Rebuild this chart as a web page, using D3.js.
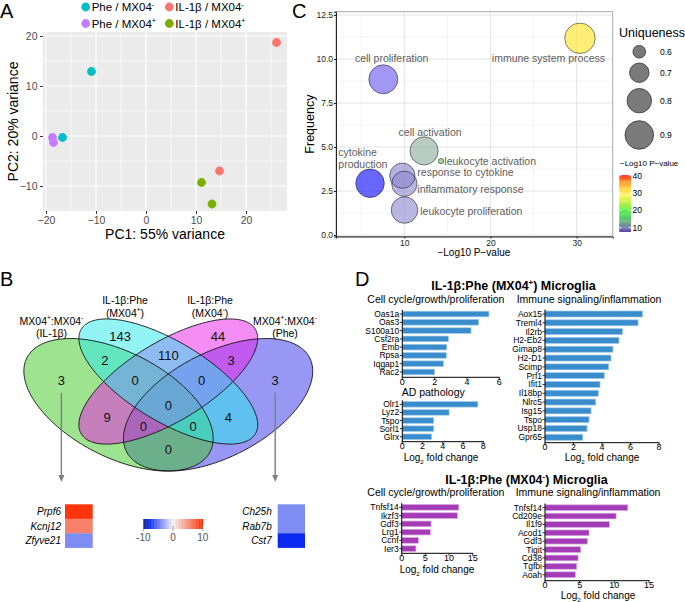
<!DOCTYPE html>
<html><head><meta charset="utf-8">
<script src="https://cdn.jsdelivr.net/npm/d3@7"></script>
<style>body{margin:0;background:#fff}svg{display:block;font-family:"Liberation Sans",Arial,Helvetica,sans-serif}</style>
</head><body><svg id="c" width="685" height="602"></svg>
<script>
// ================= DATA =================
// Panel A – PCA
const pcaGroups = ["Phe / MX04^{-}", "IL-1β / MX04^{-}", "Phe / MX04^{+}", "IL-1β / MX04^{+}"];
const pcaPC1 = [-10.9, -16.7, 26.1, 14.7, -18.7, -18.5, 11.1, 13.2];
const pcaPC2 = [12.9, -0.3, 18.7, -7.0, -0.3, -1.3, -9.3, -13.6];
const pcaPointGroup = [0, 0, 1, 1, 2, 2, 3, 3];
const pcaXTicks = [-20, -10, 0, 10, 20];
const pcaYTicks = [-10, 0, 10, 20];

// Panel C – GO bubble chart
const goTerms = ["cell proliferation", "immune system process", "cell activation", "leukocyte activation",
  "response to cytokine", "inflammatory response", "cytokine production", "leukocyte proliferation"];
const goLogP = [7.56, 30.38, 12.29, 14.26, 9.77, 10.0, 6.02, 10.02];
const goFreq = [8.85, 11.18, 4.78, 4.2, 3.37, 2.91, 2.94, 1.42];
const goUniq = [0.91, 0.95, 0.89, 0.54, 0.82, 0.82, 0.90, 0.85];
const uniqLegend = [0.6, 0.7, 0.8, 0.9];
const goXTicks = [10, 20, 30];
const goYTicks = [0, 2.5, 5, 7.5, 10, 12.5];
const goColorTicks = [10, 20, 30, 40];

// Panel B – Venn + heatmaps
const vennSetLabels = [["MX04^{+}:MX04^{-}", "(IL-1β)"], ["IL-1β:Phe", "(MX04^{+})"], ["IL-1β:Phe", "(MX04^{-})"], ["MX04^{+}:MX04^{-}", "(Phe)"]];
const vennRegions = ["A", "B", "C", "D", "AB", "BC", "CD", "ABC", "BCD", "ABCD", "AC", "BD", "ACD", "ABD", "AD"];
const vennCounts = [3, 143, 44, 3, 2, 110, 3, 0, 0, 0, 9, 4, 0, 0, 0];
const heatGenesLeft = ["Prpf6", "Kcnj12", "Zfyve21"];
const heatValsLeft = [9.5, 5.7, -4];
const heatGenesRight = ["Ch25h", "Rab7b", "Cst7"];
const heatValsRight = [-4, -4, -8];
const heatTicks = [-10, 0, 10];

// Panel D – fold changes
const d1Genes = ["Oas1a", "Oas3", "S100a10", "Csf2ra", "Emb", "Rpsa", "Iqgap1", "Rac2"];
const d1Vals = [5.36, 4.72, 4.25, 2.85, 2.74, 2.72, 2.54, 2.0];
const d2Genes = ["Olr1", "Lyz2", "Tspo", "Sorl1", "Glrx"];
const d2Vals = [7.46, 4.62, 3.1, 3.1, 2.9];
const d3Genes = ["Aox15", "Treml4", "Il2rb", "H2-Eb2", "Gimap8", "H2-D1", "Scimp", "Prf1", "Ifit1", "Il18bp", "Nlrc5", "Isg15", "Tspo", "Usp18", "Gpr65"];
const d3Vals = [6.85, 6.53, 5.43, 5.19, 4.77, 4.63, 4.47, 4.16, 3.86, 3.74, 3.56, 3.23, 3.09, 2.95, 2.65];
const d4Genes = ["Tnfsf14", "Ikzf3", "Gdf3", "Lrg1", "Ccnf", "Ier3"];
const d4Vals = [12.05, 11.75, 6.2, 6.05, 3.5, 3.0];
const d5Genes = ["Tnfsf14", "Cd209e", "Il1f9", "Acod1", "Gdf3", "Tigit", "Cd38", "Tgfbi", "Aoah"];
const d5Vals = [11.93, 10.25, 9.28, 6.35, 6.1, 5.15, 4.76, 4.57, 4.37];
const ticks6 = [0, 2, 4, 6], ticks8 = [0, 2, 4, 6, 8], ticks15 = [0, 5, 10, 15];

// ================= HELPERS =================
const svg = d3.select("#c");
svg.append("rect").attr("width", 685).attr("height", 602).attr("fill", "#fff");

function rich(sel, str, fs) {
  const parts = str.split(/(\^\{[^}]*\}|_\{[^}]*\})/).filter(s => s.length);
  let prev = 0;
  parts.forEach(p => {
    let t = p, off = 0, small = false;
    if (p.startsWith("^{")) { t = p.slice(2, -1); off = -0.4 * fs; small = true; }
    else if (p.startsWith("_{")) { t = p.slice(2, -1); off = 0.28 * fs; small = true; }
    const ts = sel.append("tspan").text(t);
    if (off - prev !== 0) ts.attr("dy", off - prev);
    if (small) ts.attr("font-size", fs * 0.62);
    prev = off;
  });
  return sel;
}
function txt(g, x, y, str, fs, opts = {}) {
  const t = g.append("text").attr("x", x).attr("y", y).attr("font-size", fs)
    .attr("text-anchor", opts.anchor || "start").attr("fill", opts.fill || "#000");
  if (opts.weight) t.attr("font-weight", opts.weight);
  if (opts.style) t.attr("font-style", opts.style);
  if (opts.rotate) t.attr("transform", `rotate(${opts.rotate},${x},${y})`);
  return rich(t, str, fs);
}

// Panel letters
[["A", 0, 18.2], ["B", 0, 286], ["C", 292, 18.2], ["D", 355, 286]].forEach(([l, x, y]) =>
  txt(svg, x, y, l, 20));

// ================= PANEL A =================
{
  const g = svg.append("g");
  const x = d3.scaleLinear().domain([-20.6, 28.2]).range([43, 287]);
  const y = d3.scaleLinear().domain([-15, 20.8]).range([211, 32]);
  const cols = ["#00BFC4", "#F8766D", "#C77CFF", "#7CAE00"];
  g.append("rect").attr("x", x.range()[0]).attr("y", y.range()[1])
    .attr("width", x.range()[1] - x.range()[0]).attr("height", y.range()[0] - y.range()[1]).attr("fill", "#EBEBEB");
  const minorX = pcaXTicks.map(t => t + 5), minorY = pcaYTicks.slice(0, -1).map(t => t + 5);
  g.selectAll(".mx").data(minorX).join("line").attr("x1", d => x(d)).attr("x2", d => x(d))
    .attr("y1", y.range()[1]).attr("y2", y.range()[0]).attr("stroke", "#fff").attr("stroke-width", 0.6);
  g.selectAll(".my").data(minorY).join("line").attr("y1", d => y(d)).attr("y2", d => y(d))
    .attr("x1", x.range()[0]).attr("x2", x.range()[1]).attr("stroke", "#fff").attr("stroke-width", 0.6);
  g.selectAll(".Mx").data(pcaXTicks).join("line").attr("x1", d => x(d)).attr("x2", d => x(d))
    .attr("y1", y.range()[1]).attr("y2", y.range()[0]).attr("stroke", "#fff").attr("stroke-width", 1.2);
  g.selectAll(".My").data(pcaYTicks).join("line").attr("y1", d => y(d)).attr("y2", d => y(d))
    .attr("x1", x.range()[0]).attr("x2", x.range()[1]).attr("stroke", "#fff").attr("stroke-width", 1.2);

  const ax = g.append("g").attr("transform", `translate(0,${y.range()[0]})`)
    .call(d3.axisBottom(x).tickValues(pcaXTicks).tickSize(3).tickPadding(3));
  const ay = g.append("g").attr("transform", `translate(${x.range()[0]},0)`)
    .call(d3.axisLeft(y).tickValues(pcaYTicks).tickSize(3).tickPadding(2.5));
  [ax, ay].forEach(a => {
    a.select(".domain").remove();
    a.selectAll("line").attr("stroke", "#333");
    a.selectAll("text").attr("fill", "#4D4D4D").attr("font-size", 10.5).attr("font-family", null);
  });

  g.selectAll("circle.pt").data(pcaPC1).join("circle")
    .attr("cx", d => x(d)).attr("cy", (d, i) => y(pcaPC2[i])).attr("r", 4.4)
    .attr("fill", (d, i) => cols[pcaPointGroup[i]]);

  txt(g, (x.range()[0] + x.range()[1]) / 2, 238.5, "PC1: 55% variance", 14, { anchor: "middle" });
  txt(g, 17.5, (y.range()[0] + y.range()[1]) / 2, "PC2: 20% variance", 14, { anchor: "middle", rotate: -90 });

  pcaGroups.forEach((lab, i) => {
    const cx = [85.7, 169.3][i % 2], cy = [7, 23.5][Math.floor(i / 2)];
    g.append("circle").attr("cx", cx).attr("cy", cy).attr("r", 4.4).attr("fill", cols[i]);
    txt(g, cx + 6, cy + 4.2, lab, 11.5);
  });
}

// ================= PANEL C =================
{
  const g = svg.append("g");
  const x = d3.scaleLinear().domain([2.07, 34.18]).range([336, 612.7]);
  const y = d3.scaleLinear().domain([-0.085, 12.69]).range([236.5, 11.7]);
  const [X0, X1] = x.range(), [Y1, Y0] = y.range();
  g.append("rect").attr("x", X0).attr("y", Y0).attr("width", X1 - X0).attr("height", Y1 - Y0).attr("fill", "#fff");
  const minorX = goXTicks.map(t => t - 5), minorY = d3.pairs(goYTicks).map(([a, b]) => (a + b) / 2);
  g.selectAll(".mx").data(minorX).join("line").attr("x1", d => x(d)).attr("x2", d => x(d)).attr("y1", Y0).attr("y2", Y1)
    .attr("stroke", "#f0f0f0").attr("stroke-width", 0.7);
  g.selectAll(".my").data(minorY).join("line").attr("y1", d => y(d)).attr("y2", d => y(d)).attr("x1", X0).attr("x2", X1)
    .attr("stroke", "#f0f0f0").attr("stroke-width", 0.7);
  g.selectAll(".Mx").data(goXTicks).join("line").attr("x1", d => x(d)).attr("x2", d => x(d)).attr("y1", Y0).attr("y2", Y1)
    .attr("stroke", "#e4e4e4").attr("stroke-width", 1);
  g.selectAll(".My").data(goYTicks).join("line").attr("y1", d => y(d)).attr("y2", d => y(d)).attr("x1", X0).attr("x2", X1)
    .attr("stroke", "#e4e4e4").attr("stroke-width", 1);
  g.append("rect").attr("x", X0).attr("y", Y0).attr("width", X1 - X0).attr("height", Y1 - Y0)
    .attr("fill", "none").attr("stroke", "#a0a0a0").attr("stroke-width", 0.9);

  const ax = g.append("g").attr("transform", `translate(0,${Y1})`)
    .call(d3.axisBottom(x).tickValues(goXTicks).tickSize(2).tickPadding(1));
  const ay = g.append("g").attr("transform", `translate(${X0},0)`)
    .call(d3.axisLeft(y).tickValues(goYTicks).tickSize(2).tickPadding(1).tickFormat(d3.format(".1f")));
  [ax, ay].forEach(a => {
    a.select(".domain").attr("stroke", "#222");
    a.selectAll("line").attr("stroke", "#222");
    a.selectAll("text").attr("fill", "#222").attr("font-size", 8.5).attr("font-family", null);
  });

  const area = d3.scaleLinear().domain([0.6, 0.9]).range([40, 204]);
  const rad = u => Math.sqrt(Math.max(area(u), 4));
  const fill = d3.scaleLinear().domain([6, 7.6, 10, 12.3, 14.3, 30.4])
    .range(["#0000ff", "#6953ee", "#8c85cf", "#8aaa9b", "#5ec65e", "#ffe31c"]).clamp(true);

  const idx = d3.range(goTerms.length);
  g.selectAll("circle.b").data(idx).join("circle")
    .attr("cx", i => x(goLogP[i])).attr("cy", i => y(goFreq[i])).attr("r", i => rad(goUniq[i]))
    .attr("fill", i => fill(goLogP[i])).attr("fill-opacity", 0.6);
  g.selectAll("circle.o").data(idx).join("circle")
    .attr("cx", i => x(goLogP[i])).attr("cy", i => y(goFreq[i])).attr("r", i => rad(goUniq[i]))
    .attr("fill", "none").attr("stroke", "#000").attr("stroke-opacity", 0.6).attr("stroke-width", 0.8);

  const labelLayout = [
    { dx: 8.4, dy: -16.8, a: "middle" }, { dx: -31.5, dy: 23.7, a: "middle" }, { dx: 6, dy: -14.8, a: "middle" },
    { dx: 3.3, dy: 4.3, a: "start" }, { dx: 15, dy: 0.3, a: "start" }, { dx: 13, dy: 9.3, a: "start" },
    { dx: -31.7, dy: -27.3, a: "start", wrap: true }, { dx: 15.7, dy: 5.3, a: "start" }];
  idx.forEach(i => {
    const L = labelLayout[i], px = x(goLogP[i]) + L.dx, py = y(goFreq[i]) + L.dy;
    const lines = L.wrap ? goTerms[i].split(" ") : [goTerms[i]];
    lines.forEach((ln, k) => txt(g, px, py + k * 12, ln, 10.5, { anchor: L.a, fill: "#606060" }));
  });

  txt(g, (X0 + X1) / 2 - 0.5, 255.5, "−Log10 P−value", 10, { anchor: "middle" });
  txt(g, 314.5, (Y0 + Y1) / 2, "Frequency", 12.5, { anchor: "middle", rotate: -90 });

  // size legend
  txt(g, 619, 36.5, "Uniqueness", 12.5);
  const legY = [51.7, 72.7, 100.7, 135];
  uniqLegend.forEach((u, k) => {
    g.append("circle").attr("cx", 639.3).attr("cy", legY[k]).attr("r", rad(u))
      .attr("fill", "#7a7a7a").attr("stroke", "#333").attr("stroke-width", 0.8);
    txt(g, 660, legY[k] + 3, d3.format(".1f")(u), 8.5);
  });
  // colour legend
  txt(g, 620, 166, "−Log10 P−value", 8);
  const cbY = d3.scaleLinear().domain([7.7, 40.4]).range([231.7, 175]);
  const cbCol = d3.scaleLinear().domain([7.7, 10, 13, 17, 21, 25, 29, 33, 37, 40.4])
    .range(["#5a44a8", "#6f6fb4", "#6fa283", "#48d95a", "#66f043", "#c6f046", "#fff560", "#ffd040", "#ff8f22", "#ff2020"]);
  const steps = d3.range(7.7, 40.4, 0.5);
  g.selectAll("rect.cb").data(steps).join("rect").attr("x", 619.3).attr("width", 11.7)
    .attr("y", d => cbY(Math.min(d + 0.5, 40.4))).attr("height", d => cbY(d) - cbY(Math.min(d + 0.5, 40.4)) + 0.3)
    .attr("fill", d => cbCol(d + 0.25));
  goColorTicks.forEach(t => {
    g.append("line").attr("x1", 619.3).attr("x2", 621.6).attr("y1", cbY(t)).attr("y2", cbY(t)).attr("stroke", "#fff").attr("stroke-width", 0.8);
    g.append("line").attr("x1", 628.7).attr("x2", 631).attr("y1", cbY(t)).attr("y2", cbY(t)).attr("stroke", "#fff").attr("stroke-width", 0.8);
    txt(g, 632.5, cbY(t) + 3, String(t), 8.5);
  });
}

// ================= PANEL B =================
{
  const g = svg.append("g");
  const vx = d3.scaleLinear().domain([0, 1]).range([2.3, 334.3]);
  const vy = d3.scaleLinear().domain([0, 1]).range([514, 281.6]);
  const ell = { // npc geometry: cx, cy, a, b, rotation(deg)
    A: [0.35, 0.47, 0.35, 0.20, 135], B: [0.50, 0.57, 0.35, 0.15, 135],
    C: [0.50, 0.57, 0.35, 0.15, 45], D: [0.65, 0.47, 0.35, 0.20, 45]
  };
  const ellCol = { A: "#3dc71f", B: "#27e9ed", C: "#e91be9", D: "#3131e9" };
  const line = d3.line().x(d => vx(d[0])).y(d => vy(d[1])).curve(d3.curveLinearClosed);
  const pts = ([cx, cy, a, b, r]) => {
    const th = r * Math.PI / 180;
    return d3.range(0, 2 * Math.PI, Math.PI / 120).map(t =>
      [cx + a * Math.cos(t) * Math.cos(th) - b * Math.sin(t) * Math.sin(th),
       cy + a * Math.cos(t) * Math.sin(th) + b * Math.sin(t) * Math.cos(th)]);
  };
  const order = ["D", "A", "C", "B"];
  order.forEach(k => g.append("path").attr("d", line(pts(ell[k]))).attr("fill", ellCol[k]).attr("fill-opacity", 0.5));
  order.forEach(k => g.append("path").attr("d", line(pts(ell[k]))).attr("fill", "none").attr("stroke", "#111").attr("stroke-width", 0.9));

  const regionPos = {
    A: [0.178, 0.577], B: [0.355, 0.763], C: [0.650, 0.763], D: [0.822, 0.577], AB: [0.309, 0.663], BC: [0.5, 0.684],
    CD: [0.689, 0.663], ABC: [0.4, 0.574], BCD: [0.6, 0.574], ABCD: [0.5, 0.466], AC: [0.316, 0.416], BD: [0.681, 0.416],
    ACD: [0.425, 0.376], ABD: [0.575, 0.376], AD: [0.5, 0.278]
  };
  vennRegions.forEach((r, i) => {
    txt(g, vx(regionPos[r][0]), vy(regionPos[r][1]) + 4.6, String(vennCounts[i]), 13, { anchor: "middle", fill: "#111" });
  });
  const setLabPos = [[51.5, 324.5], [125, 304], [210, 304], [285, 324.5]];
  vennSetLabels.forEach((lines, i) => lines.forEach((ln, k) =>
    txt(g, setLabPos[i][0], setLabPos[i][1] + k * 12.6, ln, 10.5, { anchor: "middle" })));

  // arrows
  [[vx(regionPos.A[0]), 393], [vx(regionPos.D[0]), 393]].forEach(([ax, ay]) => {
    g.append("line").attr("x1", ax).attr("x2", ax).attr("y1", ay).attr("y2", 476).attr("stroke", "#7f7f7f").attr("stroke-width", 1.4);
    g.append("path").attr("d", `M${ax - 3},475 L${ax + 3},475 L${ax},482 Z`).attr("fill", "#7f7f7f");
  });

  // heatmaps
  const hc = d3.scaleLinear().domain([-10, -8, 0, 10]).range(["#15247f", "#0a28f0", "#f2f2f2", "#ff2a00"]).clamp(true);
  const drawHeat = (genes, vals, x0, x1, labX) => {
    const yb = d3.scaleBand().domain(genes).range([504.3, 547.7]);
    g.selectAll(null).data(genes).join("rect").attr("x", x0).attr("width", x1 - x0)
      .attr("y", d => yb(d)).attr("height", yb.bandwidth() + 0.2).attr("fill", (d, i) => hc(vals[i]));
    genes.forEach(gn => txt(g, labX, yb(gn) + yb.bandwidth() / 2 + 3.6, gn, 10, { anchor: "end", style: "italic" }));
  };
  drawHeat(heatGenesLeft, heatValsLeft, 65, 92.7, 61);
  drawHeat(heatGenesRight, heatValsRight, 277.7, 305, 271.7);

  const hx = d3.scaleLinear().domain([-10, 10]).range([143.3, 202.7]);
  const hs = d3.range(-10, 10, 0.25);
  g.selectAll("rect.hcb").data(hs).join("rect").attr("x", d => hx(d)).attr("width", hx(0.25) - hx(0) + 0.3)
    .attr("y", 519).attr("height", 10).attr("fill", d => hc(d + 0.125));
  heatTicks.forEach(t => {
    g.append("line").attr("x1", hx(t)).attr("x2", hx(t)).attr("y1", 526).attr("y2", 531).attr("stroke", "#888").attr("stroke-width", 0.8);
    txt(g, hx(t), 541, String(t), 10, { anchor: "middle", fill: "#555" });
  });
}

// ================= PANEL D =================
function barChart(genes, vals, L) {
  const g = svg.append("g");
  const x = d3.scaleLinear().domain([0, L.max]).range([L.x0, L.x1]);
  const y = d3.scaleBand().domain(d3.range(genes.length)).range([L.yTop, L.yBot]).paddingInner(0.32).paddingOuter(0.16);
  g.selectAll("rect").data(vals).join("rect")
    .attr("x", x(0)).attr("y", (d, i) => y(i)).attr("width", d => x(d) - x(0)).attr("height", y.bandwidth())
    .attr("fill", L.fill).attr("stroke", L.stroke).attr("stroke-width", 0.7);
  g.append("line").attr("x1", x(0)).attr("x2", x(0)).attr("y1", L.yTop).attr("y2", L.axisY).attr("stroke", "#000").attr("stroke-width", 1);
  g.append("line").attr("x1", x(0) - 0.5).attr("x2", L.x1 + 0.5).attr("y1", L.axisY).attr("y2", L.axisY).attr("stroke", "#000").attr("stroke-width", 1);
  genes.forEach((gn, i) => {
    const cy = y(i) + y.bandwidth() / 2;
    g.append("line").attr("x1", x(0) - 2.5).attr("x2", x(0)).attr("y1", cy).attr("y2", cy).attr("stroke", "#000").attr("stroke-width", 0.8);
    txt(g, x(0) - 3, cy + 3, gn, 8.5, { anchor: "end" });
  });
  L.ticks.forEach(t => {
    g.append("line").attr("x1", x(t)).attr("x2", x(t)).attr("y1", L.axisY).attr("y2", L.axisY + 2.5).attr("stroke", "#000").attr("stroke-width", 0.8);
    txt(g, x(t), L.axisY + 7.2, String(t), 9, { anchor: "middle" });
  });
  if (L.xlab) txt(g, L.xlab[0], L.xlab[1], "Log_{2} fold change", 10, { anchor: "middle" });
}
const blue = { fill: "#3a8dcc", stroke: "#9fcaea" }, purple = { fill: "#a33cb6", stroke: "#d7a2e0" };
barChart(d1Genes, d1Vals, { ...blue, max: 6, x0: 402.3, x1: 499.3, yTop: 309.9, yBot: 376.1, axisY: 377.3, ticks: ticks6 });
barChart(d2Genes, d2Vals, { ...blue, max: 8, x0: 402.3, x1: 483.3, yTop: 400.3, yBot: 440.8, axisY: 441.7, ticks: ticks8, xlab: [441, 461.2] });
barChart(d3Genes, d3Vals, { ...blue, max: 8, x0: 545, x1: 659, yTop: 309.6, yBot: 441.7, axisY: 442.7, ticks: ticks8, xlab: [602, 461.2] });
barChart(d4Genes, d4Vals, { ...purple, max: 15, x0: 401.7, x1: 472.7, yTop: 503.2, yBot: 552.8, axisY: 553.3, ticks: ticks15, xlab: [437, 573.2] });
barChart(d5Genes, d5Vals, { ...purple, max: 15, x0: 545, x1: 649, yTop: 503.5, yBot: 578.9, axisY: 580.7, ticks: ticks15, xlab: [598, 599] });
{
  const g = svg.append("g");
  txt(g, 513.5, 289.5, "IL-1β:Phe (MX04^{+}) Microglia", 12.5, { anchor: "middle", weight: "bold" });
  txt(g, 367.3, 303.3, "Cell cycle/growth/proliferation", 10.5);
  txt(g, 516.7, 303.3, "Immune signaling/inflammation", 10.5);
  txt(g, 401.7, 396, "AD pathology", 10.5);
  txt(g, 526.5, 483.5, "IL-1β:Phe (MX04^{-}) Microglia", 12.5, { anchor: "middle", weight: "bold" });
  txt(g, 367.3, 496, "Cell cycle/growth/proliferation", 10.5);
  txt(g, 515.7, 496, "Immune signaling/inflammation", 10.5);
}
</script></body></html>
